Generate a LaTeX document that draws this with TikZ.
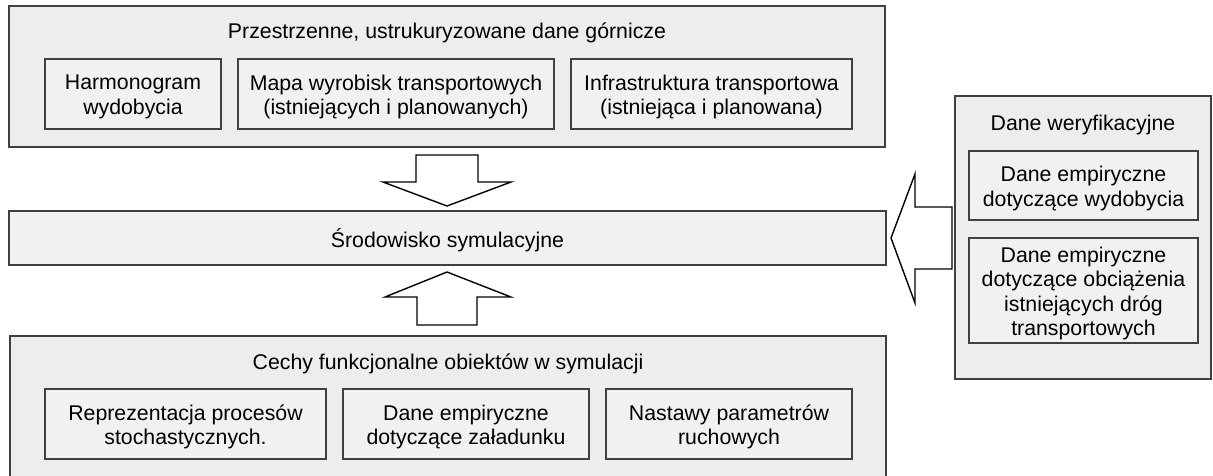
\documentclass[tikz,border=0pt]{standalone}
\usepackage{fontspec}
\setmainfont{Liberation Sans}
\newcommand\boxfont{\fontsize{21.3}{24.5}\selectfont}
\definecolor{panel}{HTML}{EDEDED}
\definecolor{cell}{HTML}{F1F1F1}
\definecolor{edge}{HTML}{404040}
\begin{document}
\begin{tikzpicture}[x=1pt,y=-1pt,
  outer/.style={draw=edge, line width=1.4pt, fill=panel, inner sep=0pt},
  inner/.style={draw=edge, line width=1.2pt, fill=cell, inner sep=0pt},
  celltext/.style={align=center, font=\boxfont, inner sep=0pt, yshift=-3pt},
  title/.style={font=\boxfont, inner sep=0pt},
  blockarrow/.style={draw=black, line width=1.4pt, fill=white, line join=miter}]
\useasboundingbox[fill=white] (0,0) rectangle (1213,475);

% top panel: spatial mining data
\node[outer, minimum width=876pt, minimum height=141pt] (top) at (447,76.5) {};
\node[title] (toptitle) at (447,33) {Przestrzenne, ustrukuryzowane dane górnicze};
\node[inner, minimum width=176pt, minimum height=70pt,
  label={[celltext]center:{Harmonogram\\wydobycia}}] (harm) at (133,94) {};
\node[inner, minimum width=316pt, minimum height=70pt,
  label={[celltext]center:{Mapa wyrobisk transportowych\\(istniejących i planowanych)}}] (mapa) at (396,94) {};
\node[inner, minimum width=281pt, minimum height=70pt,
  label={[celltext]center:{Infrastruktura transportowa\\(istniejąca i planowana)}}] (infra) at (711.5,94) {};

% simulation environment
\node[inner, minimum width=877pt, minimum height=54pt,
  label={[celltext, yshift=1pt]center:{Środowisko symulacyjne}}] (sim) at (447.5,238) {};

% bottom panel: functional features
\node[outer, minimum width=876pt, minimum height=141pt] (bottom) at (448,406.5) {};
\node[title] (bottomtitle) at (448,364) {Cechy funkcjonalne obiektów w symulacji};
\node[inner, minimum width=281pt, minimum height=70pt,
  label={[celltext]center:{Reprezentacja procesów\\stochastycznych.}}] (repr) at (185.5,424) {};
\node[inner, minimum width=246pt, minimum height=70pt,
  label={[celltext]center:{Dane empiryczne\\dotyczące załadunku}}] (zal) at (466,424) {};
\node[inner, minimum width=246pt, minimum height=70pt,
  label={[celltext]center:{Nastawy parametrów\\ruchowych}}] (nast) at (729,424) {};

% right panel: verification data
\node[outer, minimum width=256pt, minimum height=283pt] (ver) at (1083,237.5) {};
\node[title] (vertitle) at (1083,125) {Dane weryfikacyjne};
\node[inner, minimum width=229pt, minimum height=69pt,
  label={[celltext]center:{Dane empiryczne\\dotyczące wydobycia}}] (wyd) at (1083.5,185.5) {};
\node[inner, minimum width=229pt, minimum height=105pt,
  label={[celltext]center:{Dane empiryczne\\dotyczące obciążenia\\istniejących dróg\\transportowych}}] (obc) at (1083.5,290.5) {};

% block arrows into the simulation environment
\draw[blockarrow] (416,155) -- (478,155) -- (478,182) -- (511,182) -- (447,206)
  -- (383,182) -- (416,182) -- cycle;
\draw[blockarrow] (417,325) -- (477,325) -- (477,297) -- (511,297) -- (447,272)
  -- (385,297) -- (417,297) -- cycle;
\draw[blockarrow] (952,207) -- (952,269) -- (915,269) -- (915,303) -- (891,238)
  -- (915,174) -- (915,207) -- cycle;
\end{tikzpicture}
\end{document}
